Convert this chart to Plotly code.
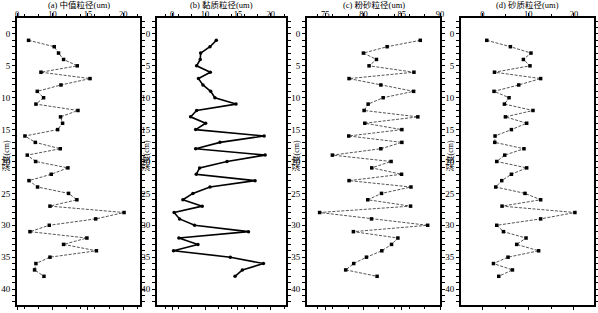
import plotly.graph_objects as go

depth = list(range(1, 39))

# (a) median grain size (axis labelled 0,10,15,20 at positions 5,10,15,20)
median_a = [6.63, 10.25, 10.86, 11.57, 13.5, 8.38, 15.3, 11.2, 7.86, 8.75,
            7.67, 13.6, 11.14, 11.43, 10.73, 6.12, 7.58, 11.1, 6.45, 7.63,
            12.18, 9.83, 6.69, 7.9, 12.27, 13.45, 9.65, 20.1, 16.1, 9.55,
            6.83, 14.86, 11.57, 16.2, 9.65, 7.67, 7.48, 8.8]
# (b) clay grain size
clay_b = [11.71, 10.75, 9.33, 9.27, 8.72, 10.8, 9.0, 9.68, 10.85, 11.5,
          14.7, 8.72, 7.8, 10.09, 8.57, 18.98, 12.27, 8.57, 19.13, 13.34,
          9.18, 8.66, 17.6, 10.75, 8.15, 6.63, 9.57, 5.3, 6.13, 8.41,
          16.6, 6.02, 8.92, 5.21, 13.84, 18.87, 15.67, 14.56]
# (c) silt grain size
silt_c = [87.42, 83.08, 79.98, 81.69, 80.72, 86.59, 78.1, 82.26, 86.55, 82.56,
          80.6, 80.07, 87.1, 80.16, 85.01, 78.06, 85.01, 82.26, 75.92, 83.6,
          81.07, 84.97, 78.1, 86.2, 82.35, 80.55, 86.15, 74.25, 81.04, 88.39,
          78.67, 84.49, 83.66, 82.39, 80.38, 78.71, 77.66, 81.77]
# (d) sand grain size
sand_d = [0.94, 6.11, 10.61, 8.95, 10.39, 2.62, 12.73, 7.93, 2.53, 5.81,
          4.8, 11.05, 5.02, 9.67, 6.33, 2.75, 2.69, 9.08, 4.87, 3.12,
          9.67, 6.33, 4.21, 2.9, 9.3, 12.73, 4.28, 20.22, 12.73, 3.12,
          4.59, 9.53, 7.49, 12.29, 5.59, 2.4, 6.55, 3.56]

titles = ["(a) 中值粒径(um)", "(b) 黏质粒径(um)", "(c) 粉砂粒径(um)", "(d) 砂质粒径(um)"]
xt_vals = [[5, 10, 15, 20], [5, 10, 15, 20], [75, 80, 85, 90], [0, 10, 20]]
xt_text = [["0", "10", "15", "20"], ["0", "10", "15", "20"], ["75", "80", "85", "90"], ["0", "10", "20"]]
x_ranges = [[5, 22.35], [2.7, 22.3], [72.6, 90], [-4.7, 24.4]]
y_ticks = [0, 5, 10, 15, 20, 25, 30, 35, 40]
y_label = "深度(cm)"

W, H = 598, 313
px_dom = [(17, 140), (157, 286), (307, 440), (461, 594)]
y_top, y_bot = 18, 305
ydom = [(H - y_bot) / H, (H - y_top) / H]

FONT = "Liberation Serif, Noto Sans CJK SC"

fig = go.Figure()
series = [median_a, clay_b, silt_c, sand_d]
for i, vals in enumerate(series):
    xa = "x" if i == 0 else f"x{i+1}"
    ya = "y" if i == 0 else f"y{i+1}"
    if i == 1:
        line = dict(color="black", width=1.6)
        marker = dict(symbol="circle", size=3.5, color="black")
    else:
        line = dict(color="#555555", width=1, dash="3px,1.5px")
        marker = dict(symbol="square", size=3.5, color="black")
    fig.add_trace(go.Scatter(x=vals, y=depth, mode="lines+markers",
                             line=line, marker=marker, xaxis=xa, yaxis=ya,
                             showlegend=False))
    # invisible companion trace so the label-only overlay axis is drawn
    fig.add_trace(go.Scatter(x=vals, y=depth, mode="markers",
                             marker=dict(opacity=0, size=1), hoverinfo="skip",
                             xaxis=f"x{i+5}", yaxis=ya, showlegend=False))

layout = dict(width=W, height=H, margin=dict(l=0, r=0, t=0, b=0, autoexpand=False),
              paper_bgcolor="white", plot_bgcolor="white",
              font=dict(family=FONT, size=9, color="black"))
annotations = []
for i in range(4):
    xk = "xaxis" if i == 0 else f"xaxis{i+1}"
    yk = "yaxis" if i == 0 else f"yaxis{i+1}"
    lk = f"xaxis{i+5}"
    xa_ref = "x" if i == 0 else f"x{i+1}"
    ya_ref = "y" if i == 0 else f"y{i+1}"
    x0, x1 = px_dom[i]
    layout[xk] = dict(domain=[x0 / W, x1 / W], range=x_ranges[i], side="top",
                      anchor=ya_ref, tickvals=xt_vals[i], showticklabels=False,
                      ticks="outside", ticklen=3, tickwidth=1, tickcolor="black",
                      showline=True, linecolor="black", linewidth=2,
                      mirror="allticks", showgrid=False, zeroline=False,
                      automargin=False,
                      minor=dict(ticks="outside", ticklen=2, nticks=2, tickcolor="black"))
    # label-only axis placed just above the frame
    layout[lk] = dict(domain=[x0 / W, x1 / W], range=x_ranges[i], side="top",
                      overlaying=xa_ref, anchor="free", position=(H - 18.5) / H,
                      tickvals=xt_vals[i], ticktext=xt_text[i], ticks="",
                      showline=False, showgrid=False, zeroline=False,
                      automargin=False, tickfont=dict(size=8.5, family=FONT))
    layout[yk] = dict(domain=ydom, range=[42.5, -2.5], anchor=xa_ref,
                      tickvals=y_ticks, ticks="outside", ticklen=3, tickwidth=1,
                      tickcolor="black", showline=True, linecolor="black", linewidth=2,
                      mirror="allticks", showgrid=False, zeroline=False,
                      automargin=False,
                      tickfont=dict(size=9, family=FONT),
                      minor=dict(ticks="outside", ticklen=2, dtick=1, tickcolor="black"))
    annotations.append(dict(text=titles[i], x=(x0 + x1) / 2 / W, y=1 + 2 / H,
                            xref="paper", yref="paper", xanchor="center", yanchor="top",
                            showarrow=False, font=dict(size=8.5, family=FONT)))
    annotations.append(dict(text=y_label, x=(x0 - 12) / W, y=0.5, xref="paper", yref="paper",
                            xanchor="center", yanchor="middle", textangle=-90,
                            showarrow=False, font=dict(size=8, family=FONT)))
layout["annotations"] = annotations
fig.update_layout(**layout)
fig.write_html("out.html", config={"displayModeBar": False},
               post_script="document.body.style.margin='0';")
